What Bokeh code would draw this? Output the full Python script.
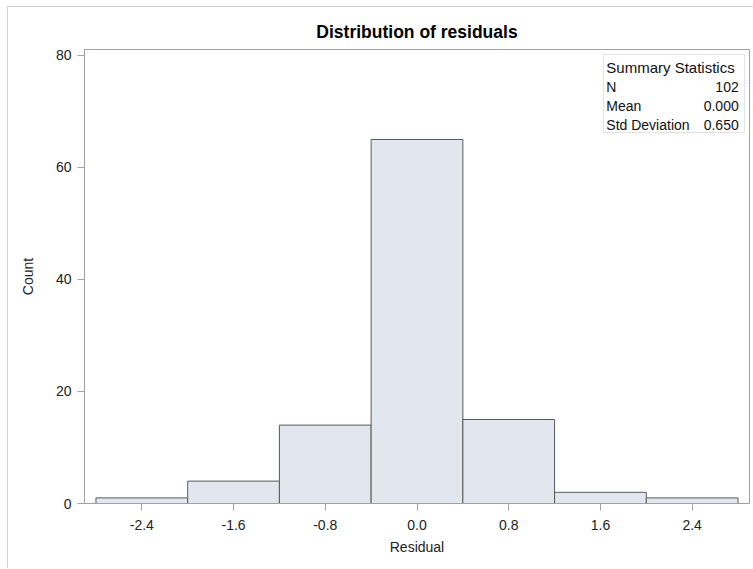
from bokeh.plotting import figure
from bokeh.models import Range1d, FixedTicker, BoxAnnotation
from bokeh.core.properties import value
from bokeh.embed import file_html
from bokeh.resources import INLINE

# ---- data ----
bin_centers = [-2.4, -1.6, -0.8, 0.0, 0.8, 1.6, 2.4]
bin_counts = [1, 4, 14, 65, 15, 2, 1]
bin_width = 0.8
x_ticks = [-2.4, -1.6, -0.8, 0.0, 0.8, 1.6, 2.4]
y_ticks = [0, 20, 40, 60, 80]
stat_names = ["N", "Mean", "Std Deviation"]
stat_values = ["102", "0.000", "0.650"]
stats_title = "Summary Statistics"

FONT = "Liberation Sans"

p = figure(
    output_backend="svg", toolbar_location=None,
    frame_width=665, frame_height=454,
    min_border_left=76, min_border_right=4, min_border_top=42, min_border_bottom=65,
    x_range=Range1d(-2.9, 2.9), y_range=Range1d(0, 81.07),
    title="Distribution of residuals",
)
p.styles = {"margin-left": "7px", "margin-top": "6px",
            "border-left": "1px solid #d2d2d2", "border-top": "1px solid #d2d2d2"}
p.title.align = "center"
p.title.text_font = FONT
p.title.text_font_size = "17.5px"
p.title.text_font_style = "bold"
p.title.text_color = "#000000"
p.title.standoff = 16

p.grid.visible = False
p.outline_line_color = "#a0a0a8"
p.background_fill_color = "white"
p.border_fill_color = "white"

lefts = [c - bin_width / 2 for c in bin_centers]
rights = [c + bin_width / 2 for c in bin_centers]
p.quad(left=lefts, right=rights, bottom=0, top=bin_counts,
       fill_color="#e1e6ef", line_color="#5a5a5a", line_width=1)

for ax in (p.xaxis[0], p.yaxis[0]):
    ax.major_tick_out = 7
    ax.major_tick_in = 0
    ax.minor_tick_line_color = None
    ax.axis_line_color = "#a0a0a8"
    ax.major_tick_line_color = "#a0a0a8"
    ax.major_label_text_font = FONT
    ax.major_label_text_font_size = "14px"
    ax.major_label_text_color = "#222222"
    ax.axis_label_text_font = FONT
    ax.axis_label_text_font_size = "14px"
    ax.axis_label_text_font_style = "normal"
    ax.axis_label_text_color = "#222222"

p.xaxis.ticker = FixedTicker(ticks=x_ticks)
p.xaxis.major_label_overrides = {t: f"{t:.1f}" for t in x_ticks}
p.xaxis.axis_label = "Residual"
p.xaxis.major_label_standoff = 9
p.xaxis.axis_label_standoff = 6

p.yaxis.ticker = FixedTicker(ticks=y_ticks)
p.yaxis.axis_label = "Count"
p.yaxis.major_label_standoff = 6
p.yaxis.axis_label_standoff = 17

# ---- summary statistics inset (positions in data units of the frame) ----
box_l, box_r, box_t, box_b = 1.626, 2.856, 80.18, 66.25
p.add_layout(BoxAnnotation(left=box_l, right=box_r, top=box_t, bottom=box_b,
                           fill_color="white", fill_alpha=1.0,
                           line_color="#a0a0a0", line_width=1, level="underlay"))
row_y = [77.9, 74.35, 70.95, 67.55]
t1 = p.text(x=[box_l + 0.025], y=[row_y[0]], text=[stats_title],
            text_font=value(FONT), text_font_size="15px", text_color="#111111",
            text_baseline="middle", text_align="left")
t2 = p.text(x=[box_l + 0.025] * 3, y=row_y[1:], text=stat_names,
            text_font=value(FONT), text_font_size="14px", text_color="#111111",
            text_baseline="middle", text_align="left")
t3 = p.text(x=[box_r - 0.05] * 3, y=row_y[1:], text=stat_values,
            text_font=value(FONT), text_font_size="14px", text_color="#111111",
            text_baseline="middle", text_align="right")
for r in (t1, t2, t3):
    r.level = "overlay"

open("out.html", "w").write(file_html(p, INLINE))
